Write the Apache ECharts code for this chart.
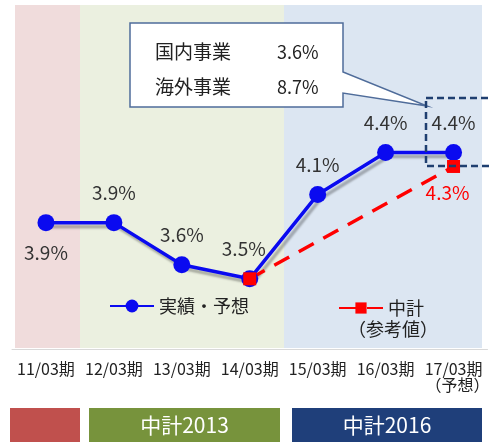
<!DOCTYPE html>
<html lang="ja">
<head>
	<meta charset="UTF-8">
	<title></title>
	<script src="https://cdn.jsdelivr.net/npm/echarts@6/dist/echarts.min.js"></script>
	<style>
		html, body{
			width: 100%;
			height: 100%;
			padding: 0;
			margin: 0;
			background: #fff;
		}
		#main{
			width: 492px;
			height: 442px;
		}
	</style>
</head>
<body>
	<div id="main"></div>
</body>
<script>
	// 期
	let categories = ['11/03期', '12/03期', '13/03期', '14/03期', '15/03期', '16/03期', '17/03期'];
	// 実績・予想
	let actualValues = [3.9, 3.9, 3.6, 3.5, 4.1, 4.4, 4.4];
	// 中計（参考値）
	let planValues = [null, null, null, 3.5, null, null, 4.3];
	// ラベルの位置
	let actualLabelPos = ['bottom', 'top', 'top', 'top', 'top', 'top', 'top'];
	// 吹き出し
	let calloutNames = ['国内事業', '海外事業'];
	let calloutValues = ['3.6%', '8.7%'];
	// 下の帯
	let bandNames = ['', '中計2013', '中計2016'];

	let font = '"Noto Sans CJK JP", "Noto Sans", sans-serif';
	let myChart = echarts.init(document.getElementById('main'));

	let actualData = actualValues.map((v, i) => ({
		value: v,
		label: {
			position: actualLabelPos[i],
			offset: i == 3 ? [-6, 0] : [0, 0]
		}
	}));

	let planData = planValues.map((v, i) => {
		if(v == null) return null;
		return {
			value: v,
			label: {show: i == planValues.length - 1}
		};
	});

	let bandColors = ['#C0504D', '#77933C', '#1F3F7A'];
	let bandRects = [[10, 70], [89, 191], [292, 190]];
	let bands = [];
	bandRects.forEach((r, i) => {
		bands.push({
			type: 'rect',
			shape: {x: r[0], y: 408, width: r[1], height: 34},
			style: {fill: bandColors[i]}
		});
		if(bandNames[i]){
			bands.push({
				type: 'text',
				x: r[0] + r[1] / 2,
				y: 425,
				style: {
					text: bandNames[i],
					fill: '#fff',
					font: '21px ' + font,
					align: 'center',
					verticalAlign: 'middle'
				}
			});
		}
	});

	myChart.setOption({
		animation: false,
		textStyle: {fontFamily: font},
		grid: {
			left: 12,
			right: -3,
			top: 5,
			bottom: 93
		},
		xAxis: {
			type: 'category',
			data: categories,
			axisLine: {lineStyle: {color: '#D9D9D9'}},
			axisTick: {length: 5, lineStyle: {color: '#BFBFBF'}},
			axisLabel: {
				interval: 0,
				color: '#222',
				fontSize: 16,
				margin: 12,
				fontFamily: font,
				formatter: function(v, i){
					return i == categories.length - 1 ? v + '\n　（予想）' : v;
				}
			}
		},
		yAxis: {
			type: 'value',
			min: 3,
			max: 5.45,
			show: false,
			splitLine: {show: false}
		},
		legend: [{
			data: ['実績・予想'],
			left: 104,
			top: 292,
			itemWidth: 44,
			itemHeight: 16,
			textStyle: {fontSize: 18, color: '#222', fontFamily: font}
		}, {
			data: ['中計'],
			left: 333,
			top: 294,
			itemWidth: 44,
			itemHeight: 14,
			textStyle: {fontSize: 18, color: '#222', fontFamily: font}
		}],
		graphic: [
			// 背景
			{type: 'rect', z: -10, shape: {x: 15, y: 5, width: 65, height: 343}, style: {fill: '#F0DCDC'}},
			{type: 'rect', z: -10, shape: {x: 80, y: 5, width: 204, height: 343}, style: {fill: '#EBF0E0'}},
			{type: 'rect', z: -10, shape: {x: 284, y: 5, width: 198, height: 343}, style: {fill: '#DCE6F2'}},
			// 吹き出し
			{
				type: 'polygon',
				z: 100,
				shape: {points: [[130, 23], [343, 23], [343, 72], [427, 106], [343, 93], [343, 107], [130, 107]]},
				style: {fill: '#fff', stroke: '#4F6C9A', lineWidth: 1.5}
			},
			{type: 'text', z: 101, x: 155, y: 52, style: {text: calloutNames[0], font: '19px ' + font, fill: '#222', verticalAlign: 'middle'}},
			{type: 'text', z: 101, x: 155, y: 87, style: {text: calloutNames[1], font: '19px ' + font, fill: '#222', verticalAlign: 'middle'}},
			{type: 'text', z: 101, x: 277, y: 52, style: {text: calloutValues[0], font: '18px ' + font, fill: '#222', verticalAlign: 'middle'}},
			{type: 'text', z: 101, x: 277, y: 87, style: {text: calloutValues[1], font: '18px ' + font, fill: '#222', verticalAlign: 'middle'}},
			// 点線の枠
			{
				type: 'rect',
				z: 100,
				shape: {x: 426, y: 98, width: 80, height: 68},
				style: {fill: 'none', stroke: '#1F3F70', lineWidth: 2.5, lineDash: [7, 4]}
			},
			// 凡例の補足
			{type: 'text', z: 100, x: 393, y: 329, style: {text: '（参考値）', font: '18px ' + font, fill: '#222', align: 'center', verticalAlign: 'middle'}}
		].concat(bands),
		series: [{
			name: '実績・予想',
			type: 'line',
			data: actualData,
			symbol: 'circle',
			symbolSize: 17,
			itemStyle: {color: '#0A0AF0'},
			lineStyle: {
				width: 3.5,
				color: '#0A0AF0',
				shadowColor: 'rgba(0,0,0,0.28)',
				shadowOffsetX: 3,
				shadowOffsetY: 4,
				shadowBlur: 2
			},
			label: {
				show: true,
				distance: 12,
				fontSize: 19,
				color: '#333',
				fontFamily: font,
				formatter: p => p.value + '%'
			}
		}, {
			name: '中計',
			type: 'line',
			data: planData,
			connectNulls: true,
			symbol: 'rect',
			symbolSize: 13,
			itemStyle: {color: '#FF0000'},
			lineStyle: {width: 3.5, color: '#FF0000', type: [17, 11]},
			label: {
				show: true,
				position: 'bottom',
				distance: 10,
				offset: [-6, 0],
				fontSize: 19,
				color: '#FF0000',
				fontFamily: font,
				formatter: p => p.value + '%'
			}
		}]
	});
</script>
</html>
